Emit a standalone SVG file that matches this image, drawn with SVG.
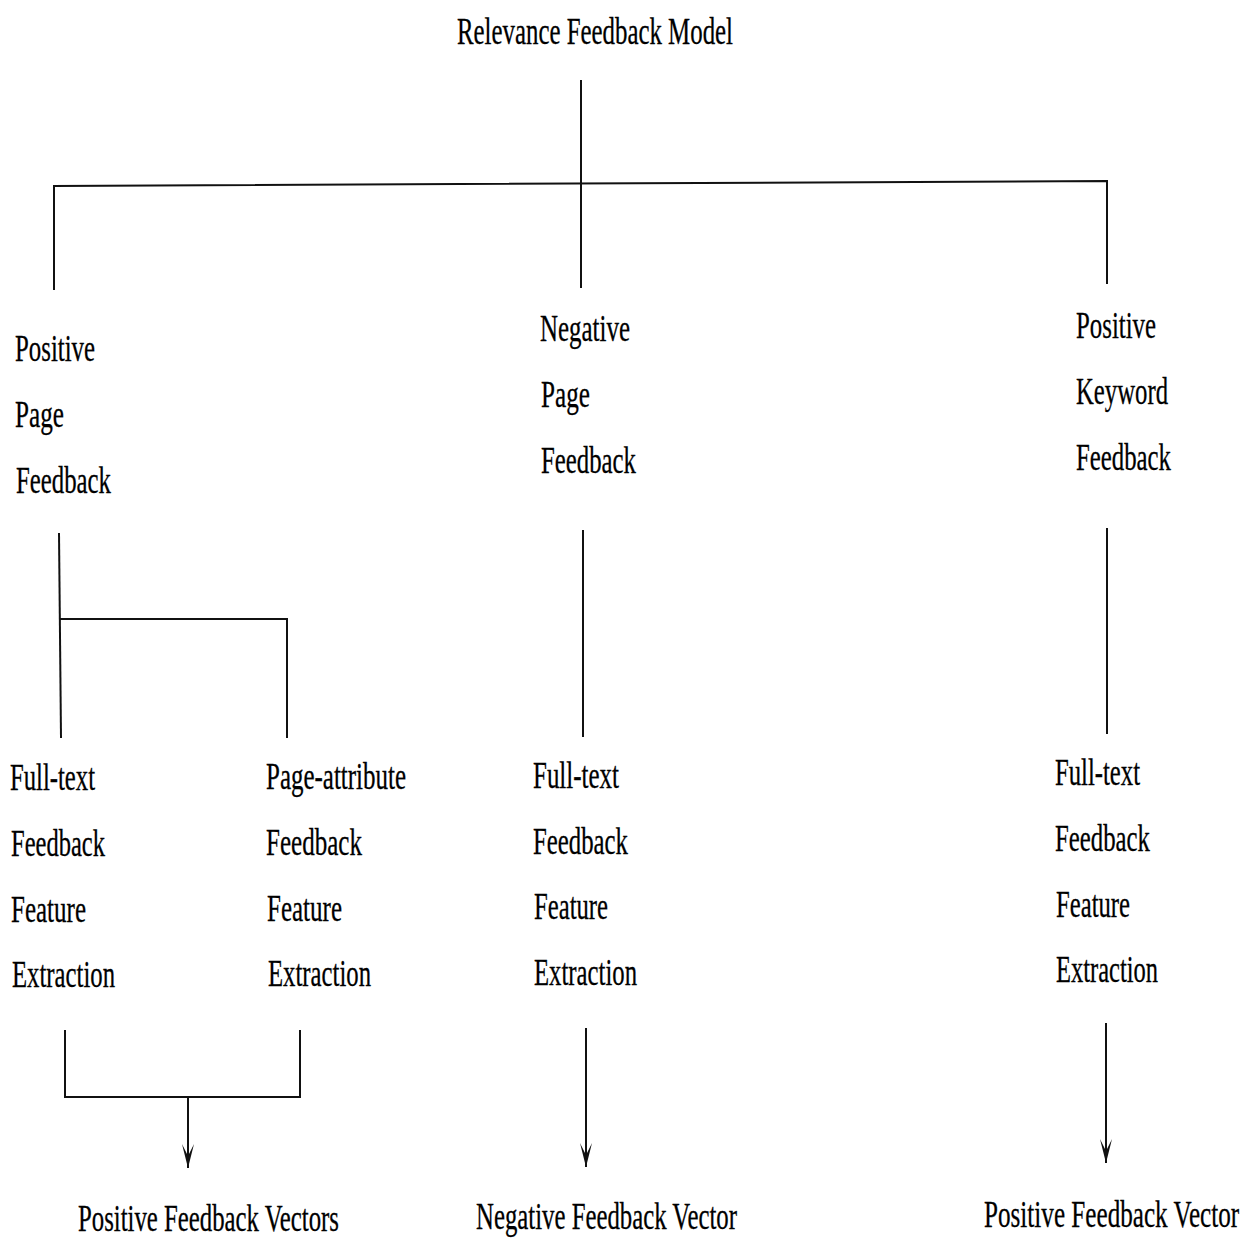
<svg xmlns="http://www.w3.org/2000/svg" width="1240" height="1240" viewBox="0 0 1240 1240">
<style>
text{font-family:"Liberation Serif","Times New Roman",serif;font-size:37px;fill:#000;stroke:#000;stroke-width:0.3}
.c line,.c polyline{stroke:#111;stroke-width:2;fill:none}
</style>
<defs>
<marker id="ah" markerUnits="userSpaceOnUse" markerWidth="26" markerHeight="14" refX="24" refY="7" orient="auto" viewBox="0 0 26 14">
<path d="M0,1 L24,7 L0,13 L12,7 Z" fill="#111"/>
</marker>
</defs>
<rect width="1240" height="1240" fill="#fff"/>
<g class="c" id="connectors">
<line x1="581" y1="80" x2="581" y2="288"/>
<polyline points="54,290 54,186 1107,181 1107,284"/>
<line x1="59" y1="533" x2="61" y2="738"/>
<polyline points="60,619 287,619 287,738"/>
<line x1="583" y1="530" x2="583" y2="737"/>
<line x1="1107" y1="528" x2="1107" y2="734"/>
<polyline points="65,1030 65,1097 300,1097 300,1030"/>
<line x1="188" y1="1097" x2="188" y2="1168" marker-end="url(#ah)"/>
<line x1="586" y1="1028" x2="586" y2="1167" marker-end="url(#ah)"/>
<line x1="1106" y1="1023" x2="1106" y2="1163" marker-end="url(#ah)"/>
</g>
<g id="root"><text x="457" y="44" textLength="276" lengthAdjust="spacingAndGlyphs">Relevance Feedback Model</text></g>
<g id="pos-page">
<text x="15" y="361" textLength="80" lengthAdjust="spacingAndGlyphs">Positive</text>
<text x="15" y="427" textLength="49" lengthAdjust="spacingAndGlyphs">Page</text>
<text x="16" y="493" textLength="95" lengthAdjust="spacingAndGlyphs">Feedback</text>
</g>
<g id="neg-page">
<text x="540" y="341" textLength="90" lengthAdjust="spacingAndGlyphs">Negative</text>
<text x="541" y="407" textLength="49" lengthAdjust="spacingAndGlyphs">Page</text>
<text x="541" y="473" textLength="95" lengthAdjust="spacingAndGlyphs">Feedback</text>
</g>
<g id="pos-keyword">
<text x="1076" y="338" textLength="80" lengthAdjust="spacingAndGlyphs">Positive</text>
<text x="1076" y="404" textLength="92" lengthAdjust="spacingAndGlyphs">Keyword</text>
<text x="1076" y="470" textLength="95" lengthAdjust="spacingAndGlyphs">Feedback</text>
</g>
<g id="fulltext-left">
<text x="10" y="790" textLength="85" lengthAdjust="spacingAndGlyphs">Full-text</text>
<text x="11" y="856" textLength="94" lengthAdjust="spacingAndGlyphs">Feedback</text>
<text x="11" y="922" textLength="75" lengthAdjust="spacingAndGlyphs">Feature</text>
<text x="12" y="987" textLength="103" lengthAdjust="spacingAndGlyphs">Extraction</text>
</g>
<g id="pageattr">
<text x="266" y="789" textLength="140" lengthAdjust="spacingAndGlyphs">Page-attribute</text>
<text x="266" y="855" textLength="96" lengthAdjust="spacingAndGlyphs">Feedback</text>
<text x="267" y="921" textLength="75" lengthAdjust="spacingAndGlyphs">Feature</text>
<text x="268" y="986" textLength="103" lengthAdjust="spacingAndGlyphs">Extraction</text>
</g>
<g id="fulltext-mid">
<text x="533" y="788" textLength="86" lengthAdjust="spacingAndGlyphs">Full-text</text>
<text x="533" y="854" textLength="95" lengthAdjust="spacingAndGlyphs">Feedback</text>
<text x="534" y="919" textLength="74" lengthAdjust="spacingAndGlyphs">Feature</text>
<text x="534" y="985" textLength="103" lengthAdjust="spacingAndGlyphs">Extraction</text>
</g>
<g id="fulltext-right">
<text x="1055" y="785" textLength="85" lengthAdjust="spacingAndGlyphs">Full-text</text>
<text x="1055" y="851" textLength="95" lengthAdjust="spacingAndGlyphs">Feedback</text>
<text x="1056" y="917" textLength="74" lengthAdjust="spacingAndGlyphs">Feature</text>
<text x="1056" y="982" textLength="102" lengthAdjust="spacingAndGlyphs">Extraction</text>
</g>
<g id="out-pos"><text x="78" y="1231" textLength="261" lengthAdjust="spacingAndGlyphs">Positive Feedback Vectors</text></g>
<g id="out-neg"><text x="476" y="1229" textLength="261" lengthAdjust="spacingAndGlyphs">Negative Feedback Vector</text></g>
<g id="out-pos2"><text transform="translate(984,1227) scale(0.68,1)" x="0" y="0">Positive Feedback Vector</text></g>
</svg>
